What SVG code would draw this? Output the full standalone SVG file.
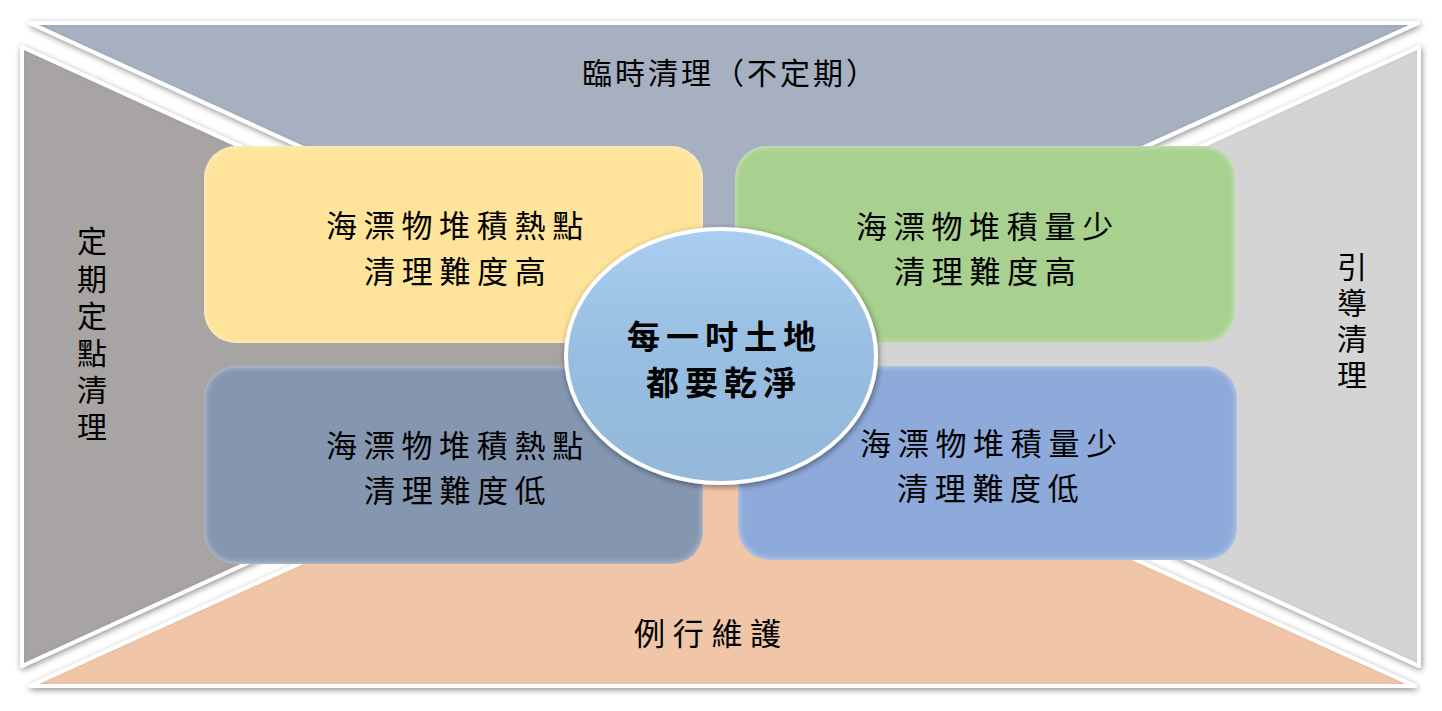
<svg xmlns="http://www.w3.org/2000/svg" width="1442" height="711" viewBox="0 0 1442 711">
<defs>
<style>
.edge{fill:none;stroke:#ffffff;stroke-width:4;stroke-linejoin:round}
.t{font-family:"Noto Sans CJK TC","Noto Sans CJK SC",sans-serif;fill:#000;font-size:31px;letter-spacing:6.7px}
.side{font-family:"Noto Sans CJK TC","Noto Sans CJK SC",sans-serif;fill:#000;font-size:30px}
.vert{font-family:"Noto Sans CJK TC","Noto Sans CJK SC",sans-serif;fill:#000;font-size:30px;writing-mode:vertical-rl;text-orientation:upright}
.ctr{font-family:"Noto Sans CJK TC","Noto Sans CJK SC",sans-serif;fill:#000;font-size:33px;font-weight:bold;letter-spacing:6px}
</style>
<filter id="drop" x="-10%" y="-10%" width="120%" height="120%">
<feGaussianBlur in="SourceAlpha" stdDeviation="3"/>
<feOffset dx="1" dy="2"/>
<feComponentTransfer><feFuncA type="linear" slope="0.45"/></feComponentTransfer>
<feMerge><feMergeNode/><feMergeNode in="SourceGraphic"/></feMerge>
</filter>
<filter id="inner" x="-5%" y="-5%" width="110%" height="110%">
<feComponentTransfer in="SourceAlpha" result="inv"><feFuncA type="table" tableValues="1 0"/></feComponentTransfer>
<feGaussianBlur in="inv" stdDeviation="2.5" result="ob"/>
<feFlood flood-color="#000" flood-opacity="0.4"/>
<feComposite in2="ob" operator="in"/>
<feComposite in2="SourceAlpha" operator="in" result="is"/>
<feMerge><feMergeNode in="SourceGraphic"/><feMergeNode in="is"/></feMerge>
</filter>
<filter id="soft" x="-5%" y="-5%" width="110%" height="110%">
<feComponentTransfer in="SourceAlpha" result="inv"><feFuncA type="table" tableValues="1 0"/></feComponentTransfer>
<feGaussianBlur in="inv" stdDeviation="3" result="ob"/>
<feFlood flood-color="#fff" flood-opacity="0.45"/>
<feComposite in2="ob" operator="in"/>
<feComposite in2="SourceAlpha" operator="in" result="is"/>
<feMerge><feMergeNode in="SourceGraphic"/><feMergeNode in="is"/></feMerge>
</filter>
<linearGradient id="cg" x1="0" y1="0" x2="0" y2="1">
<stop offset="0" stop-color="#a9ceef"/>
<stop offset="0.5" stop-color="#97bde0"/>
<stop offset="1" stop-color="#93b8da"/>
</linearGradient>
</defs>
<rect width="1442" height="711" fill="#ffffff"/>

<g id="frame-top" filter="url(#drop)">
<polygon points="30,23 1418,23 721,339" fill="#a6b0c1" filter="url(#inner)"/>
<polygon class="edge" points="30,23 1418,23 721,339"/>
</g>
<g id="frame-left" filter="url(#drop)">
<polygon points="22,47 700,356 22,666" fill="#a8a4a3" filter="url(#inner)"/>
<polygon class="edge" points="22,47 700,356 22,666"/>
</g>
<g id="frame-right" filter="url(#drop)">
<polygon points="1419,47 742,356 1419,666" fill="#d4d4d4" filter="url(#inner)"/>
<polygon class="edge" points="1419,47 742,356 1419,666"/>
</g>
<g id="frame-bottom" filter="url(#drop)">
<polygon points="30,686 721,372 1415,686" fill="#f1c6a8" filter="url(#inner)"/>
<polygon class="edge" points="30,686 721,372 1415,686"/>
</g>

<g id="label-top"><text class="side" style="letter-spacing:3px" x="582" y="84">臨時清理（不定期）</text></g>
<g id="label-left"><text class="vert" style="letter-spacing:7.2px" x="92" y="226">定期定點清理</text></g>
<g id="label-right"><text class="vert" style="letter-spacing:6px" x="1352" y="252">引導清理</text></g>
<g id="label-bottom"><text class="t" style="letter-spacing:7.7px" x="634" y="645">例行維護</text></g>

<g id="q-top-left">
<rect x="204" y="146" width="499" height="197" rx="32" fill="#fee39a" filter="url(#soft)"/>
<text class="t" x="326" y="237">海漂物堆積熱點</text>
<text class="t" x="364" y="283">清理難度高</text>
</g>
<g id="q-top-right">
<rect x="735" y="146" width="500" height="197" rx="32" fill="#a8d08e" filter="url(#soft)"/>
<text class="t" x="856" y="238">海漂物堆積量少</text>
<text class="t" x="894" y="283">清理難度高</text>
</g>
<g id="q-bottom-left">
<rect x="204" y="366" width="499" height="198" rx="32" fill="#8597b0" filter="url(#soft)"/>
<text class="t" x="326" y="457">海漂物堆積熱點</text>
<text class="t" x="364" y="502">清理難度低</text>
</g>
<g id="q-bottom-right">
<rect x="738" y="366" width="499" height="194" rx="32" fill="#8eaadb" filter="url(#soft)"/>
<text class="t" x="860" y="455">海漂物堆積量少</text>
<text class="t" x="897" y="500">清理難度低</text>
</g>

<g id="connectors"/>

<g id="center">
<ellipse cx="721" cy="356" rx="155" ry="127" fill="url(#cg)" stroke="#ffffff" stroke-width="4" filter="url(#drop)"/>
<text class="ctr" x="627" y="349">每一吋土地</text>
<text class="ctr" x="646" y="395">都要乾淨</text>
</g>
</svg>
